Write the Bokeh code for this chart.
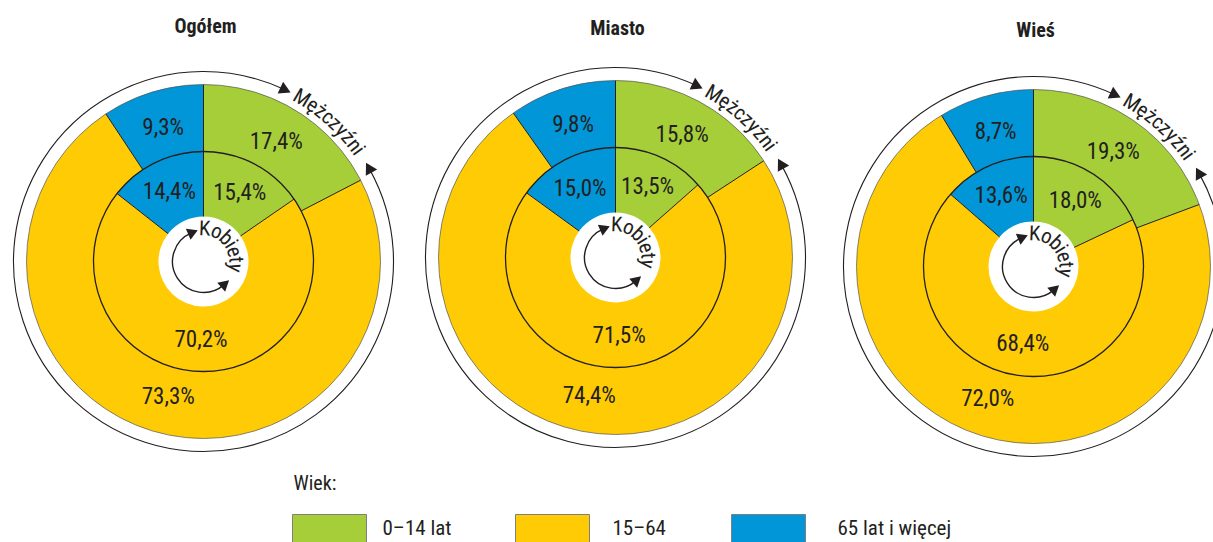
import math
from bokeh.plotting import figure
from bokeh.models import Range1d
from bokeh.core.properties import value
from bokeh.embed import file_html
from bokeh.resources import INLINE

# ---------------- data ----------------
titles = ["Ogółem", "Miasto", "Wieś"]
age_groups = ["0–14 lat", "15–64", "65 lat i więcej"]
colors = ["#A6CE39", "#FFCB05", "#0096D8"]
# outer ring: men (Mężczyźni)
men_0_14 = [17.4, 15.8, 19.3]
men_15_64 = [73.3, 74.4, 72.0]
men_65_plus = [9.3, 9.8, 8.7]
# inner ring: women (Kobiety)
women_0_14 = [15.4, 13.5, 18.0]
women_15_64 = [70.2, 71.5, 68.4]
women_65_plus = [14.4, 15.0, 13.6]
outer_name = "Mężczyźni"
inner_name = "Kobiety"
legend_title = "Wiek:"

# ---------------- layout (reference pixel coords) ----------------
W, H = 1213, 542
centers_px = [(203, 261), (615, 257), (1033, 266)]
title_px = [(205, 25), (617, 27), (1035, 29)]
R_HOLE, R_MID, R_OUT, R_ARROW, R_KOB = 45, 110, 177, 190, 32
R_LAB_OUT, R_LAB_IN = 140, 78
FONT = "'Roboto Condensed', 'Liberation Sans Narrow', Roboto, sans-serif"
INK = "#231F20"

def Y(py):
    return H - py

p = figure(width=W, height=H, x_range=Range1d(0, W), y_range=Range1d(0, H),
           output_backend="svg", toolbar_location=None, min_border=0,
           outline_line_color=None, background_fill_color="white", border_fill_color="white")
p.axis.visible = False
p.grid.visible = False

def fmt(v):
    return ("%.1f" % v).replace(".", ",") + "%"

# approximate relative glyph widths for arc-text spacing
char_w = {"M": .833, "ę": .556, "ż": .5, "c": .5, "z": .5, "y": .5, "ź": .5, "n": .556,
          "i": .222, "K": .667, "o": .556, "b": .556, "e": .556, "t": .278}

def arc_text(cx, cy, r, text, a_first, a_last, size):
    w = [char_w.get(ch, .5) for ch in text]
    cum, c = [], 0.0
    for wi in w:
        cum.append(c + wi / 2)
        c += wi
    xs, ys, angs = [], [], []
    for k, ch in enumerate(text):
        t = (cum[k] - cum[0]) / (cum[-1] - cum[0])
        a = math.radians(a_first + (a_last - a_first) * t)
        xs.append(cx + r * math.cos(a))
        ys.append(cy + r * math.sin(a))
        angs.append(a - math.pi / 2)
    p.text(x=xs, y=ys, text=list(text), angle=angs, text_align="center",
           text_baseline="middle", text_font=value(FONT), text_font_size=size,
           text_color=INK)

def ring(cx, cy, vals, r0, r1, r_lab):
    bounds = [90.0]
    for v in vals:
        bounds.append(bounds[-1] - v * 3.6)
    starts = [math.radians(bounds[k + 1]) for k in range(3)]
    ends = [math.radians(bounds[k]) for k in range(3)]
    p.annular_wedge(x=[cx] * 3, y=[cy] * 3, inner_radius=r0, outer_radius=r1,
                    start_angle=starts, end_angle=ends, direction="anticlock",
                    fill_color=colors, line_color=None)
    # separator lines
    bx0, by0, bx1, by1 = [], [], [], []
    for b in bounds[:3]:
        a = math.radians(b)
        bx0.append(cx + r0 * math.cos(a)); by0.append(cy + r0 * math.sin(a))
        bx1.append(cx + r1 * math.cos(a)); by1.append(cy + r1 * math.sin(a))
    p.segment(x0=bx0, y0=by0, x1=bx1, y1=by1, line_color=INK, line_width=1)
    # labels
    lx, ly, lt = [], [], []
    for k, v in enumerate(vals):
        m = math.radians((bounds[k] + bounds[k + 1]) / 2)
        lx.append(cx + r_lab * math.cos(m)); ly.append(cy + r_lab * math.sin(m))
        lt.append(fmt(v))
    p.text(x=lx, y=ly, text=lt, text_align="center", text_baseline="middle",
           text_font=value(FONT), text_font_size="23px", text_color=INK)

for i in range(3):
    cx, cy = centers_px[i][0], Y(centers_px[i][1])
    ring(cx, cy, [men_0_14[i], men_15_64[i], men_65_plus[i]], R_MID, R_OUT, R_LAB_OUT)
    ring(cx, cy, [women_0_14[i], women_15_64[i], women_65_plus[i]], R_HOLE, R_MID, R_LAB_IN)
    # ring outlines
    p.circle(x=[cx], y=[cy], radius=R_MID, fill_color=None, line_color=INK, line_width=1.3)
    p.circle(x=[cx], y=[cy], radius=R_OUT, fill_color=None, line_color="#555555", line_width=0.7)

    # outer arrow (men)
    p.arc(x=cx, y=cy, radius=R_ARROW, start_angle=math.radians(65), end_angle=math.radians(389),
          direction="anticlock", line_color=INK, line_width=1.1)
    a1, a2 = math.radians(65), math.radians(29)
    p.scatter(x=[cx + R_ARROW * math.cos(a1), cx + R_ARROW * math.cos(a2)],
              y=[cy + R_ARROW * math.sin(a1), cy + R_ARROW * math.sin(a2)],
              marker="triangle", size=13, angle=[a1 - math.pi, a2],
              fill_color=INK, line_color=None)
    arc_text(cx, cy, R_ARROW + 1, outer_name, 59, 35.5, "21px")

    # inner arrow (women)
    p.arc(x=cx, y=cy, radius=R_KOB - 1, start_angle=math.radians(113), end_angle=math.radians(311),
          direction="anticlock", line_color=INK, line_width=1.4)
    b1, b2 = math.radians(113), math.radians(-49)
    p.scatter(x=[cx + (R_KOB - 1) * math.cos(b1), cx + (R_KOB - 1) * math.cos(b2)],
              y=[cy + (R_KOB - 1) * math.sin(b1), cy + (R_KOB - 1) * math.sin(b2)],
              marker="triangle", size=12, angle=[b1 - math.pi, b2],
              fill_color=INK, line_color=None)
    arc_text(cx, cy, R_KOB + 1, inner_name, 88, -11, "21px")

    # title
    p.text(x=[title_px[i][0]], y=[Y(title_px[i][1])], text=[titles[i]], text_align="center",
           text_baseline="middle", text_font=value(FONT), text_font_size="20px",
           text_font_style="bold", text_color=INK)

# ---------------- legend ----------------
box_left_px = [292, 515, 731]
box_w = 74
label_left_px = [382, 612, 837]
p.text(x=[293], y=[Y(482)], text=[legend_title], text_align="left", text_baseline="middle",
       text_font=value(FONT), text_font_size="20px", text_color=INK)
p.quad(left=box_left_px, right=[b + box_w for b in box_left_px], top=[Y(514)] * 3,
       bottom=[Y(560)] * 3, fill_color=colors, line_color="#7F7F7F", line_width=1)
p.text(x=label_left_px, y=[Y(527)] * 3, text=age_groups, text_align="left",
       text_baseline="middle", text_font=value(FONT), text_font_size="21px",
       text_color=INK)

open("out.html", "w").write(file_html(p, INLINE))
